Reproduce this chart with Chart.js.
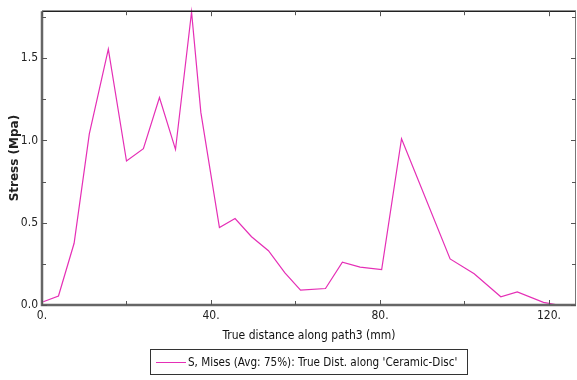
<!DOCTYPE html>
<html>
<head>
<meta charset="utf-8">
<script src="https://cdn.jsdelivr.net/npm/chart.js@4/dist/chart.umd.min.js"></script>
<style>
    html, body { margin: 0; padding: 0; background: #fff; }
    #wrap { position: relative; width: 577px; height: 380px; }
    #legend {
        position: absolute; left: 150px; top: 349px; width: 318px; height: 26px;
        border: 1px solid #333; box-sizing: border-box;
        font: 11.6px "DejaVu Sans Condensed", sans-serif; color: #111;
        line-height: 24px; white-space: nowrap;
    }
    #legend .swatch { position: absolute; left: 5px; top: 12px; width: 30px; height: 1px; background: #e52fb6; }
    #legend .label { position: absolute; left: 37px; top: 0; }
</style>
</head>
<body>
<div id="wrap">
    <canvas id="chart" width="577" height="380"></canvas>
    <div id="legend"><span class="swatch"></span><span class="label">S, Mises (Avg: 75%): True Dist. along 'Ceramic-Disc'</span></div>
</div>
<script>
// distance along path (mm)
const distance = [0.3, 3.9, 7.6, 11.2, 15.7, 20.0, 24.0, 27.8, 31.6, 35.4, 37.6, 42.0, 45.7, 49.6, 53.6, 57.5, 61.2, 67.1, 71.1, 75.3, 80.4, 85.1, 96.6, 102.3, 108.6, 112.5, 118.7, 122.2, 126.2];
// von Mises stress (Mpa)
const stress = [0.02, 0.055, 0.375, 1.04, 1.555, 0.875, 0.95, 1.26, 0.945, 1.78, 1.17, 0.47, 0.525, 0.415, 0.33, 0.195, 0.09, 0.1, 0.26, 0.23, 0.215, 1.01, 0.28, 0.19, 0.05, 0.08, 0.016, 0.0, 0.003];
const xTicks = [0, 20, 40, 60, 80, 100, 120];
const yTicks = [0, 0.25, 0.5, 0.75, 1.0, 1.25, 1.5, 1.75];
const xLabels = {0: '0.', 40: '40.', 80: '80.', 120: '120.'};
const yLabels = {0: '0.0', 0.5: '0.5', 1: '1.0', 1.5: '1.5'};

const tickFont = { family: '"DejaVu Sans Condensed", sans-serif', size: 12 };

// frame and inward tick marks
const framePlugin = {
    id: 'frame',
    afterDatasetsDraw(chart) {
        const ctx = chart.ctx;
        const a = chart.chartArea;
        const xs = chart.scales.x, ys = chart.scales.y;
        ctx.save();
        // top and right border
        ctx.strokeStyle = '#222';
        ctx.lineWidth = 1.5;
        ctx.beginPath();
        ctx.moveTo(a.left, a.top);
        ctx.lineTo(a.right, a.top);
        ctx.stroke();
        ctx.strokeStyle = '#777';
        ctx.lineWidth = 1;
        ctx.beginPath();
        ctx.moveTo(a.right - 0.5, a.top);
        ctx.lineTo(a.right - 0.5, a.bottom);
        ctx.stroke();
        // left and bottom axes
        ctx.strokeStyle = '#666';
        ctx.lineWidth = 2.5;
        ctx.beginPath();
        ctx.moveTo(a.left, a.top);
        ctx.lineTo(a.left, a.bottom);
        ctx.lineTo(a.right, a.bottom);
        ctx.stroke();
        // ticks
        ctx.strokeStyle = '#555';
        ctx.lineWidth = 1;
        xs.ticks.forEach(t => {
            const x = Math.round(xs.getPixelForValue(t.value)) + 0.5;
            const len = xLabels[t.value] !== undefined ? 5 : 4;
            ctx.beginPath();
            ctx.moveTo(x, a.bottom);
            ctx.lineTo(x, a.bottom - len);
            ctx.moveTo(x, a.top);
            ctx.lineTo(x, a.top + len);
            ctx.stroke();
        });
        ys.ticks.forEach(t => {
            const y = Math.round(ys.getPixelForValue(t.value)) + 0.5;
            const len = yLabels[t.value] !== undefined ? 5 : 4;
            ctx.beginPath();
            ctx.moveTo(a.left, y);
            ctx.lineTo(a.left + len, y);
            ctx.moveTo(a.right, y);
            ctx.lineTo(a.right - len, y);
            ctx.stroke();
        });
        ctx.restore();
    }
};

new Chart(document.getElementById('chart'), {
    type: 'line',
    data: {
        datasets: [{
            label: "S, Mises (Avg: 75%): True Dist. along 'Ceramic-Disc'",
            data: distance.map((d, i) => ({ x: d, y: stress[i] })),
            borderColor: '#e52fb6',
            borderWidth: 1.2,
            pointRadius: 0,
            tension: 0,
            fill: false,
            clip: false
        }]
    },
    options: {
        responsive: false,
        animation: false,
        events: [],
        layout: { padding: { top: 7, right: 1, left: 0, bottom: 0 } },
        plugins: { legend: { display: false }, tooltip: { enabled: false } },
        scales: {
            x: {
                type: 'linear',
                min: 0,
                max: 126.4,
                afterBuildTicks: s => { s.ticks = xTicks.map(v => ({ value: v })); },
                afterFit: s => { s.height = 75; },
                grid: { display: false, drawTicks: false },
                border: { display: false },
                ticks: {
                    font: tickFont, color: '#222', padding: 4, maxRotation: 0, autoSkip: false,
                    callback: v => xLabels[v] !== undefined ? xLabels[v] : ''
                },
                title: {
                    display: true, text: 'True distance along path3 (mm)',
                    font: tickFont, color: '#111', padding: { top: 0, bottom: 37 }
                }
            },
            y: {
                min: 0,
                max: 1.785,
                afterBuildTicks: s => { s.ticks = yTicks.map(v => ({ value: v })); },
                afterFit: s => { s.width = 42; },
                grid: { display: false, drawTicks: false },
                border: { display: false },
                ticks: {
                    font: tickFont, color: '#222', padding: 4, autoSkip: false,
                    callback: v => yLabels[v] !== undefined ? yLabels[v] : ''
                },
                title: {
                    display: true, text: 'Stress (Mpa)',
                    font: { family: '"DejaVu Sans", Verdana, sans-serif', size: 12, weight: 'bold' },
                    color: '#222', padding: { top: 8, bottom: 0 }
                }
            }
        }
    },
    plugins: [framePlugin]
});
</script>
</body>
</html>
